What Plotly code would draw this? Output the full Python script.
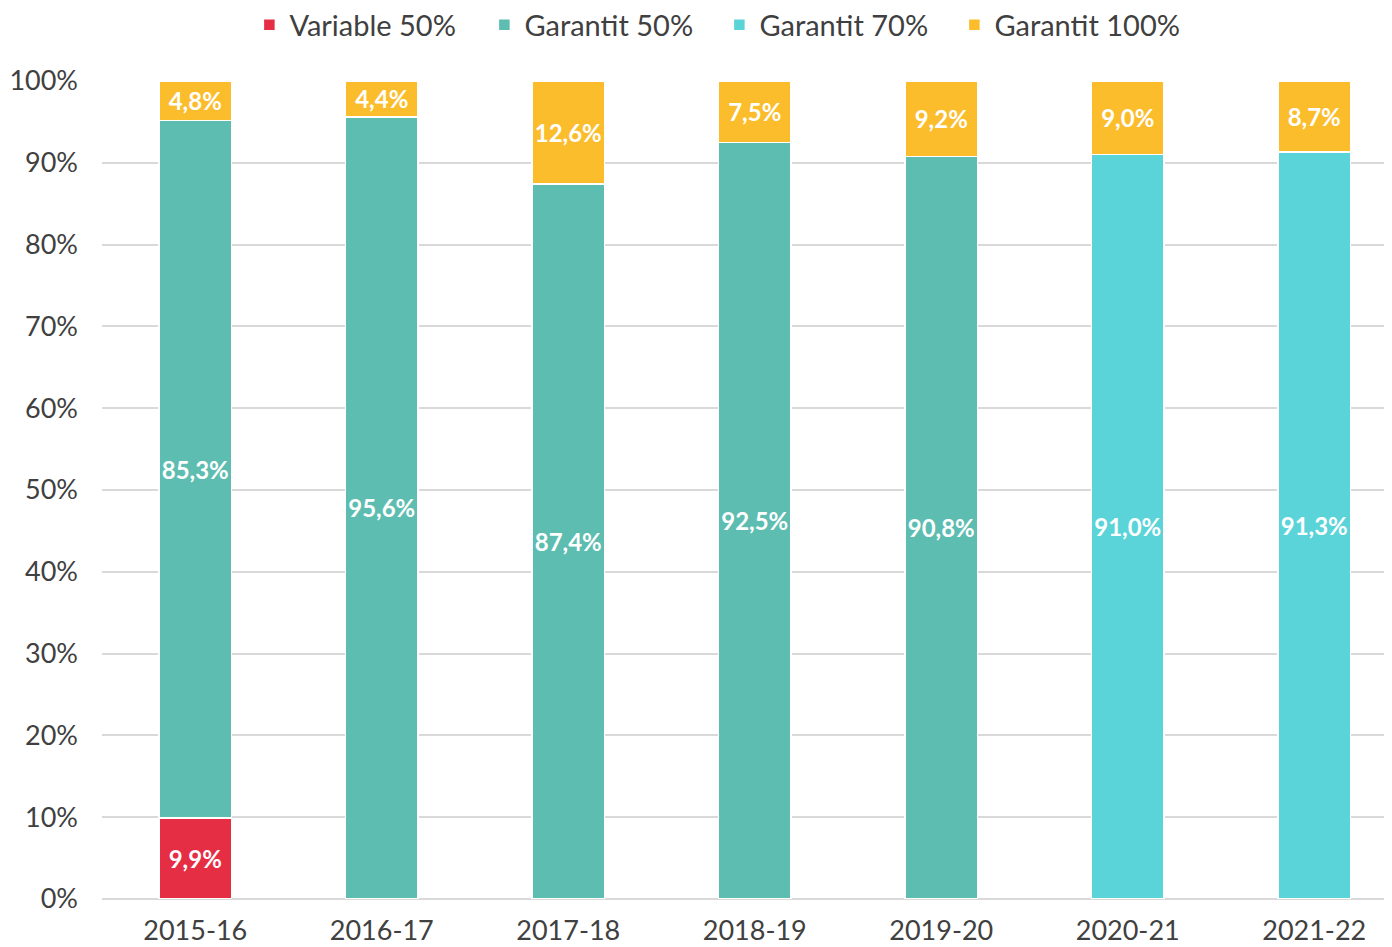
import plotly.graph_objects as go

categories = ["2015-16", "2016-17", "2017-18", "2018-19", "2019-20", "2020-21", "2021-22"]
variable_50 = [9.9, None, None, None, None, None, None]
garantit_50 = [85.3, 95.6, 87.4, 92.5, 90.8, None, None]
garantit_70 = [None, None, None, None, None, 91.0, 91.3]
garantit_100 = [4.8, 4.4, 12.6, 7.5, 9.2, 9.0, 8.7]
y_ticks = [0, 10, 20, 30, 40, 50, 60, 70, 80, 90, 100]

series = [
    ("Variable 50%", variable_50, "#E52D44"),
    ("Garantit 50%", garantit_50, "#5DBDB1"),
    ("Garantit 70%", garantit_70, "#5AD4D9"),
    ("Garantit 100%", garantit_100, "#FBBD2C"),
]

def fmt(v):
    return "" if v is None else f"{v:.1f}".replace(".", ",") + "%"

fig = go.Figure()
for name, vals, color in series:
    fig.add_trace(go.Bar(
        x=categories, y=vals, name=name,
        marker=dict(color=color, line=dict(color="white", width=1.5)),
        text=[fmt(v) for v in vals],
        textposition="inside", insidetextanchor="middle",
        textfont=dict(family="Lato", size=24, color="white", weight="bold"),
        textangle=0, constraintext="none",
        hoverinfo="skip",
    ))

fig.update_layout(
    barmode="stack",
    bargap=0.61,
    width=1384, height=939,
    margin=dict(l=94, r=0, t=73, b=48, autoexpand=False),
    paper_bgcolor="white", plot_bgcolor="white",
    font=dict(family="Lato", color="#404040"),
    legend=dict(
        orientation="h", xref="container", x=0.514, xanchor="center",
        yref="container", y=0.982, yanchor="middle",
        font=dict(size=29, color="#404040"),
        traceorder="normal", itemwidth=30, entrywidth=190,
    ),
    showlegend=True,
)
fig.update_xaxes(
    range=[-0.5, 6.417], showgrid=False, showline=False, zeroline=False,
    tickfont=dict(size=27, color="#404040"), ticks="", ticklabelstandoff=13,
    automargin=False,
)
fig.update_yaxes(
    range=[0, 100], tickvals=y_ticks, ticktext=[f"{t}%" for t in y_ticks],
    showgrid=True, gridcolor="#D9D9D9", gridwidth=2,
    zeroline=True, zerolinecolor="#D9D9D9", zerolinewidth=2,
    tickfont=dict(size=27, color="#404040"), ticks="", ticklabelstandoff=23,
    automargin=False,
)

fig.write_html("out.html")
